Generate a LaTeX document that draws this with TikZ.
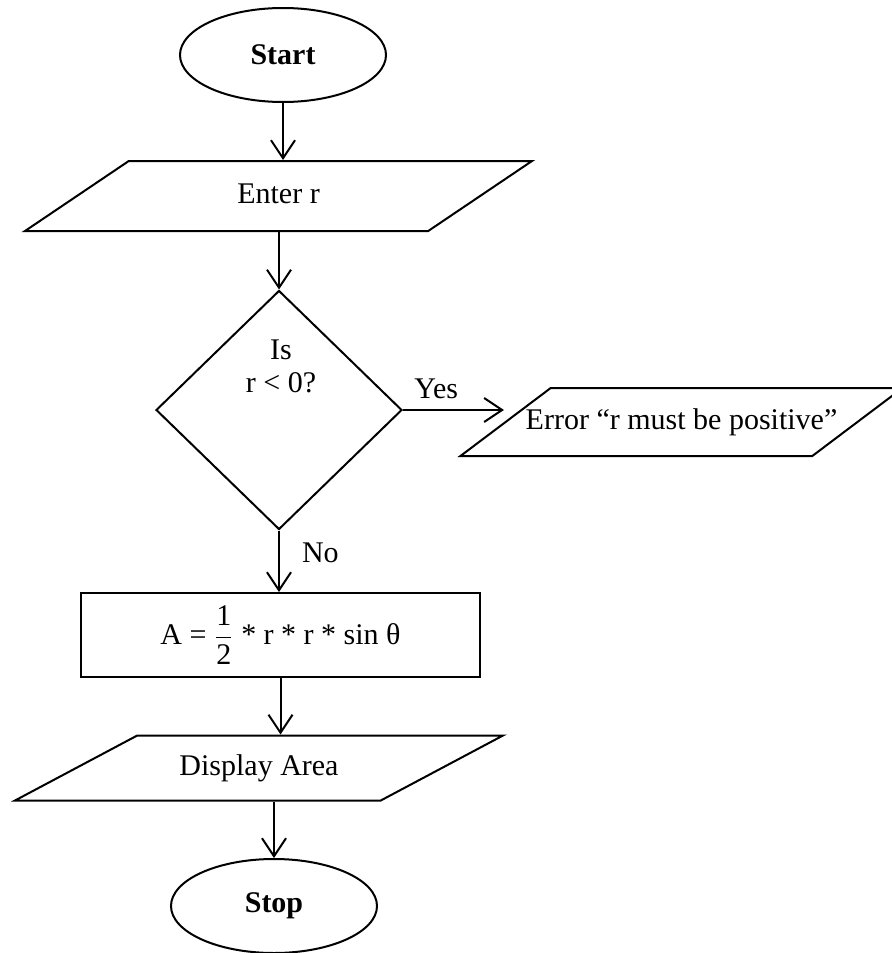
\documentclass[tikz,border=0pt]{standalone}
\usepackage{fontspec}
\setmainfont{Liberation Serif}
\usepackage{amsmath}
\usetikzlibrary{shapes.geometric,arrows.meta}

\begin{document}
\begin{tikzpicture}[
    x=0.5pt, y=-0.5pt,
    font=\fontsize{15}{16.5}\selectfont,
    line width=1pt,
    term/.style={draw, ellipse, inner sep=0pt, minimum width=103pt,
                 minimum height=47pt, font=\fontsize{15}{16.5}\selectfont\bfseries},
    io/.style={draw, trapezium, trapezium stretches body, inner xsep=0pt,
               text height=11pt, text depth=4pt},
    decide/.style={draw, diamond, inner sep=0pt, minimum width=123pt,
                   minimum height=119.5pt},
    proc/.style={draw, rectangle, minimum width=199.5pt, minimum height=42pt},
    lbl/.style={inner sep=2pt},
    arr/.style={-{Straight Barb[length=9pt, width=12pt]}}
]

% One unit is one pixel of the 891 x 953 page.
\useasboundingbox (0,0) rectangle (891,953);

% ---------- boxes ----------
\node[term] (start) at (283,55) {Start};
\node[io, trapezium left angle=34, trapezium right angle=146, inner ysep=10pt,
      minimum width=253.5pt] (enter) at (278.5,196) {Enter r};
\node[decide] (dec) at (279,410) {};
\node[lbl, align=center] (dectxt) at (281,366) {Is\\r < 0?};
\node[io, trapezium left angle=37, trapezium right angle=143, inner ysep=9.5pt,
      inner xsep=-12.5pt] (err) at (681.5,422)
      {Error “r must be positive”};
\node[proc] (calc) at (280.5,635)
      {A = $\dfrac{\text{1}}{\text{2}}$ * r * r * sin θ};
\node[io, trapezium left angle=28, trapezium right angle=152, inner ysep=8.75pt,
      minimum width=244pt] (disp) at (259,768) {Display Area};
\node[term] (stop) at (274,906) {Stop};

% ---------- arrows ----------
\draw[arr] (start) -- (start |- enter.north);
\draw[arr] (dec.north |- enter.south) -- (dec.north);
\draw[arr] (dec.east) -- (dec.east -| err.west)
      node[lbl, above=3pt, pos=0.33] (yes) {Yes};
\draw[arr] (dec.south) -- (dec.south |- calc.north)
      node[lbl, right=9pt, pos=0.37] (no) {No};
\draw[arr] (calc.south) -- (calc.south |- disp.north);
\draw[arr] (stop.north |- disp.south) -- (stop.north);

\end{tikzpicture}
\end{document}
